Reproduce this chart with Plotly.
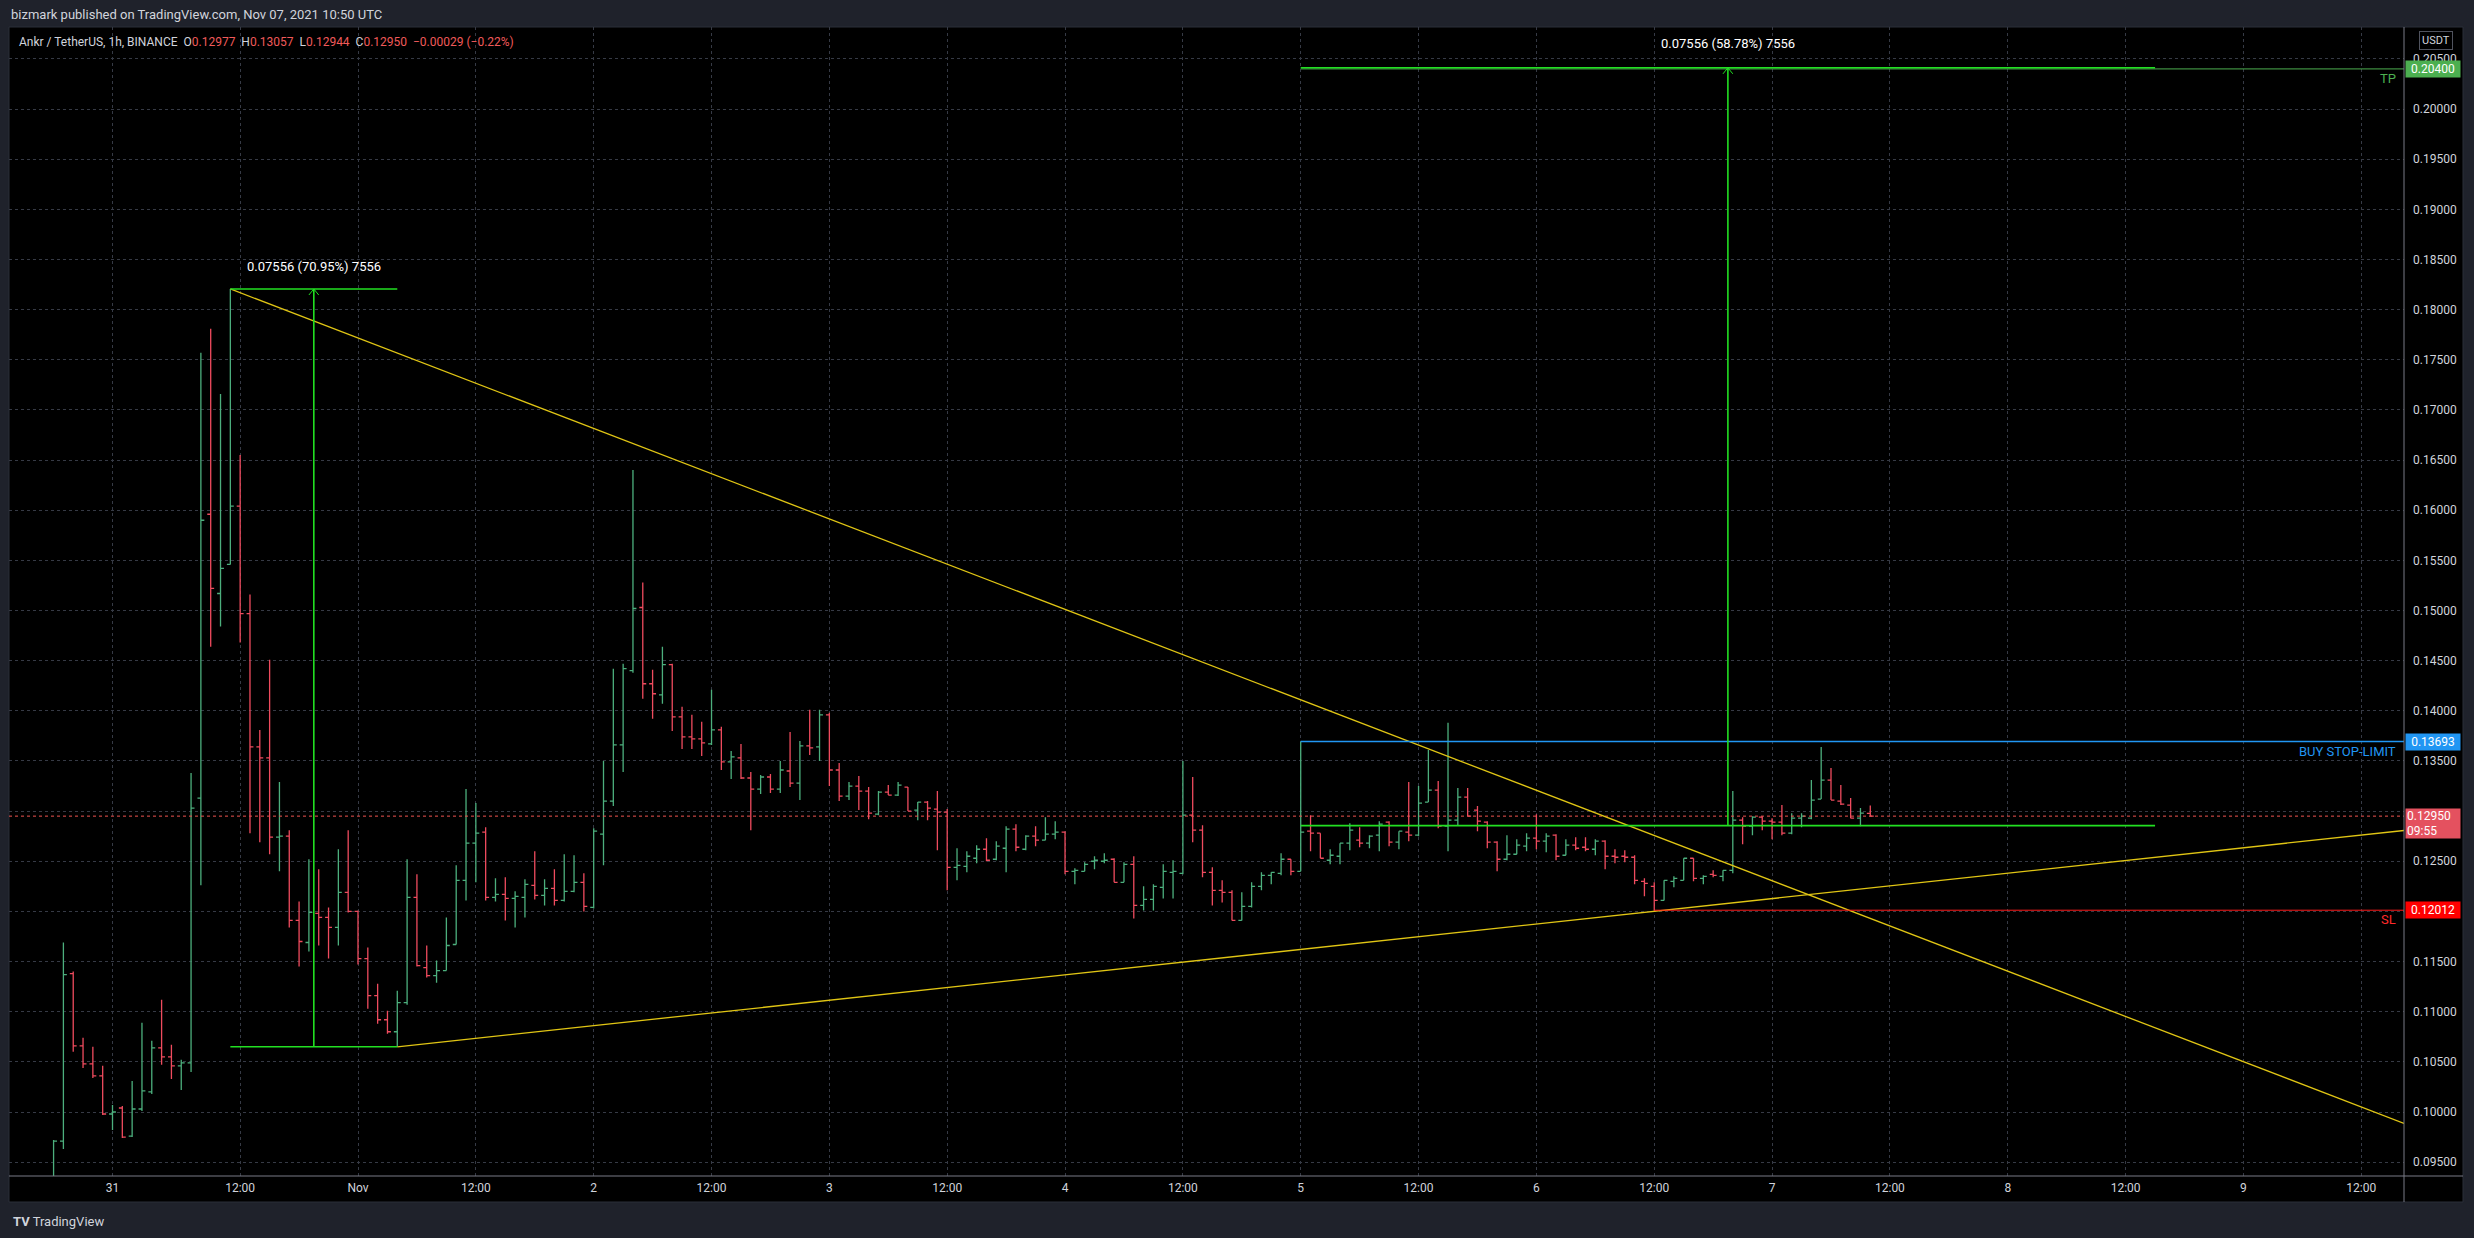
import plotly.graph_objects as go

# ---------------- data ----------------
# x = hourly bar index counted from Oct 31 00:00 (chart time zone; Oct 31 has 25 hourly bars)
bar_index = list(range(-6, 180))

opens = [
    0.0935, 0.0971, 0.1138, 0.1066, 0.1048, 0.1036,
    0.0998, 0.1004, 0.0976, 0.1003, 0.1020, 0.1064, 0.1055, 0.1046, 0.1049, 0.1313,
    0.1596, 0.1517, 0.1546, 0.1604, 0.1497, 0.1364, 0.1353, 0.1274, 0.1275, 0.1191,
    0.1169, 0.1198, 0.1194, 0.1184, 0.1219, 0.1200, 0.1153, 0.1116, 0.1092, 0.1080,
    0.1109, 0.1214, 0.1144, 0.1136, 0.1141, 0.1167, 0.1231, 0.1268, 0.1279, 0.1214,
    0.1217, 0.1213, 0.1214, 0.1226, 0.1216, 0.1223, 0.1211, 0.1220, 0.1229, 0.1204,
    0.1277, 0.1310, 0.1366, 0.1440, 0.1503, 0.1427, 0.1416, 0.1446, 0.1394, 0.1374,
    0.1372, 0.1367, 0.1381, 0.1349, 0.1353, 0.1333, 0.1322, 0.1334, 0.1322, 0.1340,
    0.1328, 0.1365, 0.1364, 0.1396, 0.1341, 0.1315, 0.1325, 0.1320, 0.1297, 0.1319,
    0.1316, 0.1324, 0.1301, 0.1309, 0.1302, 0.1299, 0.1244, 0.1245, 0.1253, 0.1262,
    0.1252, 0.1263, 0.1282, 0.1262, 0.1275, 0.1271, 0.1277, 0.1279, 0.1240, 0.1240,
    0.1250, 0.1250, 0.1252, 0.1229, 0.1247, 0.1206, 0.1212, 0.1224, 0.1239, 0.1238,
    0.1296, 0.1281, 0.1239, 0.1221, 0.1219, 0.1191, 0.1205, 0.1225, 0.1236, 0.1238,
    0.1252, 0.1240, 0.1280, 0.1278, 0.1251, 0.1255, 0.1268, 0.1271, 0.1268, 0.1276,
    0.1289, 0.1269, 0.1279, 0.1276, 0.1309, 0.1321, 0.1285, 0.1291, 0.1314, 0.1301,
    0.1289, 0.1269, 0.1252, 0.1257, 0.1265, 0.1273, 0.1270, 0.1276, 0.1256, 0.1266,
    0.1264, 0.1262, 0.1270, 0.1255, 0.1255, 0.1254, 0.1230, 0.1225, 0.1211, 0.1230,
    0.1231, 0.1253, 0.1233, 0.1237, 0.1235, 0.1241, 0.1291, 0.1285, 0.1294, 0.1290,
    0.1289, 0.1278, 0.1293, 0.1293, 0.1312, 0.1331, 0.1310, 0.1306, 0.1293, 0.12977,
]
highs = [
    0.0972, 0.1169, 0.1140, 0.1074, 0.1065, 0.1046,
    0.1007, 0.1006, 0.1031, 0.1089, 0.1071, 0.1112, 0.1067, 0.1052, 0.1338, 0.1757,
    0.1781, 0.1716, 0.18206, 0.1655, 0.1516, 0.1381, 0.1451, 0.1329, 0.1281, 0.1210,
    0.1252, 0.1242, 0.1204, 0.1262, 0.1281, 0.1201, 0.1164, 0.1128, 0.1101, 0.1121,
    0.1252, 0.1237, 0.1166, 0.1151, 0.1194, 0.1246, 0.1322, 0.1308, 0.1284, 0.1233,
    0.1234, 0.1220, 0.1232, 0.1260, 0.1232, 0.1242, 0.1257, 0.1256, 0.1238, 0.1283,
    0.1350, 0.1442, 0.1447, 0.1640, 0.1528, 0.1441, 0.1464, 0.1447, 0.1404, 0.1396,
    0.1389, 0.1421, 0.1384, 0.1360, 0.1367, 0.1339, 0.1336, 0.1337, 0.1350, 0.1379,
    0.1370, 0.1401, 0.1401, 0.1398, 0.1348, 0.1329, 0.1335, 0.1324, 0.1320, 0.1326,
    0.1329, 0.1324, 0.1309, 0.1310, 0.1320, 0.1302, 0.1263, 0.1260, 0.1266, 0.1273,
    0.1270, 0.1285, 0.1287, 0.1276, 0.1285, 0.1294, 0.1290, 0.1280, 0.1243, 0.1249,
    0.1255, 0.1258, 0.1253, 0.1249, 0.1255, 0.1225, 0.1227, 0.1247, 0.1251, 0.1350,
    0.1334, 0.1286, 0.1244, 0.1231, 0.1221, 0.1219, 0.1229, 0.1239, 0.1239, 0.1258,
    0.1252, 0.13693, 0.1296, 0.1278, 0.1262, 0.1268, 0.1288, 0.1284, 0.1276, 0.1290,
    0.1290, 0.1280, 0.1329, 0.1325, 0.1361, 0.1330, 0.1388, 0.1323, 0.1323, 0.1305,
    0.1290, 0.1270, 0.1276, 0.1272, 0.1278, 0.1297, 0.1278, 0.1277, 0.1272, 0.1274,
    0.1274, 0.1272, 0.1271, 0.1262, 0.1261, 0.1256, 0.1233, 0.1229, 0.1231, 0.1235,
    0.1253, 0.1253, 0.1236, 0.1241, 0.1241, 0.1320, 0.1294, 0.1295, 0.1295, 0.1293,
    0.1306, 0.1298, 0.1298, 0.1331, 0.1364, 0.1343, 0.1326, 0.1313, 0.1303, 0.13057,
]
lows = [
    0.0930, 0.0963, 0.1060, 0.1044, 0.1034, 0.0997,
    0.0982, 0.0974, 0.0975, 0.1001, 0.1018, 0.1047, 0.1033, 0.1022, 0.1040, 0.1226,
    0.1464, 0.1484, 0.1546, 0.1468, 0.1278, 0.1269, 0.1257, 0.1240, 0.1184, 0.1145,
    0.1160, 0.1166, 0.1153, 0.1166, 0.1199, 0.1147, 0.1103, 0.1088, 0.1078, 0.10650,
    0.1107, 0.1145, 0.1134, 0.1129, 0.1141, 0.1167, 0.1211, 0.1229, 0.1211, 0.1210,
    0.1191, 0.1184, 0.1194, 0.1212, 0.1206, 0.1206, 0.1210, 0.1219, 0.1200, 0.1203,
    0.1246, 0.1305, 0.1339, 0.1438, 0.1412, 0.1392, 0.1407, 0.1380, 0.1362, 0.1362,
    0.1355, 0.1366, 0.1341, 0.1332, 0.1332, 0.1281, 0.1317, 0.1318, 0.1318, 0.1324,
    0.1311, 0.1356, 0.1350, 0.1325, 0.1310, 0.1311, 0.1301, 0.1292, 0.1296, 0.1316,
    0.1315, 0.1300, 0.1291, 0.1291, 0.1261, 0.1221, 0.1231, 0.1239, 0.1248, 0.1250,
    0.1251, 0.1239, 0.1260, 0.1261, 0.1265, 0.1271, 0.1272, 0.1237, 0.1227, 0.1240,
    0.1242, 0.1248, 0.1229, 0.1229, 0.1193, 0.1201, 0.1201, 0.1213, 0.1213, 0.1237,
    0.1269, 0.1234, 0.1206, 0.1209, 0.1191, 0.1191, 0.1204, 0.1221, 0.1227, 0.1236,
    0.1236, 0.1240, 0.1260, 0.1253, 0.1247, 0.1247, 0.1261, 0.1264, 0.1263, 0.1260,
    0.1265, 0.1262, 0.1270, 0.1275, 0.1309, 0.1283, 0.1260, 0.1286, 0.1295, 0.1280,
    0.1263, 0.1240, 0.1251, 0.1257, 0.1260, 0.1262, 0.1259, 0.1251, 0.1256, 0.1261,
    0.1260, 0.1256, 0.1242, 0.1248, 0.1249, 0.1227, 0.1215, 0.12007, 0.1211, 0.1224,
    0.1231, 0.1230, 0.1227, 0.1234, 0.1230, 0.1238, 0.1267, 0.1276, 0.1281, 0.1272,
    0.1276, 0.1277, 0.1284, 0.1292, 0.1312, 0.1311, 0.1306, 0.1293, 0.1285, 0.12944,
]
closes = [
    0.0971, 0.1137, 0.1066, 0.1048, 0.1036, 0.0998,
    0.1000, 0.0975, 0.1003, 0.1021, 0.1064, 0.1055, 0.1046, 0.1049, 0.1303, 0.1590,
    0.1522, 0.1542, 0.1604, 0.1497, 0.1364, 0.1353, 0.1274, 0.1275, 0.1191, 0.1170,
    0.1199, 0.1194, 0.1184, 0.1219, 0.1200, 0.1153, 0.1116, 0.1092, 0.1080, 0.1109,
    0.1214, 0.1146, 0.1136, 0.1141, 0.1166, 0.1231, 0.1268, 0.1278, 0.1214, 0.1217,
    0.1213, 0.1215, 0.1227, 0.1216, 0.1223, 0.1211, 0.1220, 0.1229, 0.1205, 0.1280,
    0.1310, 0.1366, 0.1442, 0.1502, 0.1427, 0.1417, 0.1446, 0.1394, 0.1374, 0.1372,
    0.1368, 0.1381, 0.1349, 0.1354, 0.1333, 0.1322, 0.1334, 0.1322, 0.1341, 0.1328,
    0.1365, 0.1363, 0.1396, 0.1341, 0.1315, 0.1325, 0.1320, 0.1298, 0.1319, 0.1316,
    0.1326, 0.1300, 0.1309, 0.1303, 0.1299, 0.1244, 0.1246, 0.1255, 0.1262, 0.1251,
    0.1265, 0.1282, 0.1264, 0.1275, 0.1271, 0.1277, 0.1279, 0.1240, 0.1241, 0.1247,
    0.1251, 0.1251, 0.1229, 0.1247, 0.1206, 0.1212, 0.1225, 0.1240, 0.1240, 0.1296,
    0.1281, 0.1239, 0.1221, 0.1219, 0.1191, 0.1205, 0.1225, 0.1236, 0.1239, 0.1252,
    0.1240, 0.1279, 0.1278, 0.1253, 0.1256, 0.1268, 0.1281, 0.1268, 0.1275, 0.1287,
    0.1269, 0.1280, 0.1276, 0.1308, 0.1321, 0.1285, 0.1291, 0.1314, 0.1295, 0.1290,
    0.1269, 0.1252, 0.1257, 0.1266, 0.1273, 0.1270, 0.1275, 0.1255, 0.1266, 0.1263,
    0.1262, 0.1270, 0.1255, 0.1254, 0.1254, 0.1231, 0.1228, 0.1211, 0.1231, 0.1233,
    0.1253, 0.1233, 0.1235, 0.1236, 0.1241, 0.1291, 0.1285, 0.1294, 0.1290, 0.1289,
    0.1278, 0.1293, 0.1295, 0.1311, 0.1331, 0.1311, 0.1307, 0.1293, 0.1298, 0.12950,
]

x_tick_vals = [0, 13, 25, 37, 49, 61, 73, 85, 97, 109, 121, 133, 145, 157, 169, 181, 193, 205, 217, 229]
x_tick_text = ["31", "12:00", "Nov", "12:00", "2", "12:00", "3", "12:00", "4", "12:00",
               "5", "12:00", "6", "12:00", "7", "12:00", "8", "12:00", "9", "12:00"]
price_tick_vals = [0.095, 0.100, 0.105, 0.110, 0.115, 0.120, 0.125, 0.130, 0.135, 0.140, 0.145, 0.150,
                   0.155, 0.160, 0.165, 0.170, 0.175, 0.180, 0.185, 0.190, 0.195, 0.200, 0.205]
# labels that sit under the SL and last-price badges are hidden, as in the reference
price_tick_hidden = [0.120, 0.130]
price_tick_text = ["" if any(abs(v - h) < 1e-9 for h in price_tick_hidden) else "%.5f" % v
                   for v in price_tick_vals]

# drawings
trend_down_x = [12, 233.35]
trend_down_y = [0.18206, 0.09887]
trend_up_x = [29, 233.35]
trend_up_y = [0.10650, 0.12807]

measure1_x = [12, 29]
measure1_y = [0.10650, 0.18206]
measure1_label = "0.07556 (70.95%) 7556"
measure2_x = [121, 208]
measure2_y = [0.12855, 0.20411]
measure2_label = "0.07556 (58.78%) 7556"

buy_stop_level, buy_stop_start = 0.13693, 121
tp_level, tp_start = 0.20400, 121
sl_level, sl_start = 0.12012, 157
last_price = 0.12950
last_countdown = "09:55"

x_range = [-10.54, 233.35]
y_range = [0.09362, 0.20818]

# ---------------- layout geometry ----------------
W, H = 2474, 1238
PL, PR, PT, PB = 9, 2404, 27, 1176   # plot area in px
BG = "#1f222b"


def xp(px):
    return (px - PL) / (PR - PL)


def yp(py):
    return (PB - py) / (PB - PT)


UP = "#4caf7d"
DOWN = "#ef4b5e"
LIME = "#22e022"
YEL = "#e0c514"
BLUE = "#2196f3"
FONT = "Roboto"

fig = go.Figure()

fig.add_trace(go.Ohlc(
    x=bar_index, open=opens, high=highs, low=lows, close=closes,
    increasing=dict(line=dict(color=UP, width=1.3)),
    decreasing=dict(line=dict(color=DOWN, width=1.3)),
    tickwidth=0.35, hoverinfo="skip", showlegend=False,
))


def line(xs, ys, color, width=1.3, dash="solid"):
    fig.add_trace(go.Scatter(x=xs, y=ys, mode="lines", line=dict(color=color, width=width, dash=dash),
                             hoverinfo="skip", showlegend=False))


# current price dotted line
line(x_range, [last_price, last_price], "#ef5350", 1, "dot")

# trend lines
line(trend_down_x, trend_down_y, YEL, 1.3)
line(trend_up_x, trend_up_y, YEL, 1.3)

# horizontal levels
line([tp_start, x_range[1]], [tp_level, tp_level], "#4caf50", 1)
line([buy_stop_start, x_range[1]], [buy_stop_level, buy_stop_level], BLUE, 1.5)
line([sl_start, x_range[1]], [sl_level, sl_level], "#ff1c1c", 1)

# measure tools
for mx, my in [(measure1_x, measure1_y), (measure2_x, measure2_y)]:
    mid = (mx[0] + mx[1]) / 2
    line(mx, [my[0], my[0]], LIME, 1.6)
    line(mx, [my[1], my[1]], LIME, 1.6)
    line([mid, mid], my, LIME, 1.6)
    line([mid - 0.5, mid, mid + 0.5], [my[1] - 0.0006, my[1], my[1] - 0.0006], LIME, 1)

annotations = []
annotations.append(dict(x=(measure1_x[0] + measure1_x[1]) / 2, y=measure1_y[1], xref="x", yref="y",
                        text=measure1_label, showarrow=False, yshift=22, yanchor="middle",
                        font=dict(color="#ffffff", size=13, family=FONT)))
annotations.append(dict(x=(measure2_x[0] + measure2_x[1]) / 2, y=measure2_y[1], xref="x", yref="y",
                        text=measure2_label, showarrow=False, yshift=24, yanchor="middle",
                        font=dict(color="#ffffff", size=13, family=FONT)))

# right-side line labels in the plot
annotations.append(dict(x=xp(2398), y=buy_stop_level, xref="paper", yref="y", text="BUY STOP-LIMIT",
                        showarrow=False, xanchor="right", yanchor="middle", yshift=-10,
                        font=dict(color=BLUE, size=13, family=FONT)))
annotations.append(dict(x=xp(2398), y=tp_level, xref="paper", yref="y", text="TP",
                        showarrow=False, xanchor="right", yanchor="middle", yshift=-10,
                        font=dict(color="#4caf50", size=13, family=FONT)))
annotations.append(dict(x=xp(2398), y=sl_level, xref="paper", yref="y", text="SL",
                        showarrow=False, xanchor="right", yanchor="middle", yshift=-9,
                        font=dict(color="#ff2a2a", size=13, family=FONT)))

# price-axis badges
for val, bg, txt in [(tp_level, "#4caf50", "%.5f" % tp_level),
                     (buy_stop_level, BLUE, "%.5f" % buy_stop_level),
                     (sl_level, "#ff0000", "%.5f" % sl_level)]:
    annotations.append(dict(x=xp(2405), y=val, xref="paper", yref="y", text=txt, showarrow=False,
                            xanchor="left", yanchor="middle", bgcolor=bg, width=52, height=14, borderpad=1,
                            font=dict(color="#ffffff", size=12, family=FONT)))
annotations.append(dict(x=xp(2405), y=last_price, xref="paper", yref="y",
                        text="%.5f<br>%s" % (last_price, last_countdown), showarrow=False,
                        xanchor="left", yanchor="top", yshift=8, bgcolor="#e4515f", width=52, height=27,
                        borderpad=1, align="left",
                        font=dict(color="#ffffff", size=12, family=FONT)))

# USDT box
annotations.append(dict(x=xp(2436), y=yp(41), xref="paper", yref="paper", text="USDT", showarrow=False,
                        xanchor="center", yanchor="middle",
                        bordercolor="#50535e", borderwidth=1, borderpad=2,
                        font=dict(color="#d1d4dc", size=11, family=FONT)))

# header / ticker line / footer
annotations.append(dict(x=xp(9), y=yp(15), xref="paper", yref="paper", xanchor="left", yanchor="middle",
                        text="bizmark published on TradingView.com, Nov 07, 2021 10:50 UTC",
                        showarrow=False, font=dict(color="#d1d4dc", size=13, family=FONT)))
red = "#f05a5a"
ticker = ("Ankr / TetherUS, 1h, BINANCE&nbsp;&nbsp;"
          "O<span style='color:%s'>0.12977</span>&nbsp;&nbsp;"
          "H<span style='color:%s'>0.13057</span>&nbsp;&nbsp;"
          "L<span style='color:%s'>0.12944</span>&nbsp;&nbsp;"
          "C<span style='color:%s'>0.12950</span>&nbsp;&nbsp;"
          "<span style='color:%s'>−0.00029 (−0.22%%)</span>") % (red, red, red, red, red)
annotations.append(dict(x=xp(17), y=yp(42), xref="paper", yref="paper", xanchor="left", yanchor="middle",
                        text=ticker, showarrow=False, font=dict(color="#d1d4dc", size=12, family=FONT)))
annotations.append(dict(x=xp(11), y=yp(1221), xref="paper", yref="paper", xanchor="left", yanchor="middle",
                        text="<b>TV</b> TradingView", showarrow=False,
                        font=dict(color="#d1d4dc", size=13, family=FONT)))

shapes = [
    # black chart pane (plot + axes)
    dict(type="rect", xref="paper", yref="paper", x0=xp(9), x1=xp(2463), y0=yp(1202), y1=yp(27),
         fillcolor="#000000", line=dict(color="#2a2e39", width=1), layer="below"),
    # axis separators
    dict(type="line", xref="paper", yref="paper", x0=1, x1=1, y0=yp(1202), y1=1,
         line=dict(color="#787b86", width=1)),
    dict(type="line", xref="paper", yref="paper", x0=0, x1=xp(2463), y0=0, y1=0,
         line=dict(color="#787b86", width=1)),
]

fig.update_layout(
    width=W, height=H,
    margin=dict(l=PL, r=W - PR, t=PT, b=H - PB),
    paper_bgcolor=BG,
    plot_bgcolor="#000000",
    showlegend=False,
    hovermode=False,
    font=dict(family=FONT, color="#d1d4dc"),
    annotations=annotations,
    shapes=shapes,
    xaxis=dict(range=x_range, tickvals=x_tick_vals, ticktext=x_tick_text, showgrid=True,
               gridcolor="#363a45", griddash="dot", gridwidth=1, zeroline=False, showline=False,
               ticks="", ticklabelstandoff=3, tickfont=dict(color="#d1d4dc", size=12, family=FONT),
               rangeslider=dict(visible=False), fixedrange=True),
    yaxis=dict(range=y_range, side="right", tickvals=price_tick_vals, ticktext=price_tick_text,
               showgrid=True, gridcolor="#363a45", griddash="dot", gridwidth=1, zeroline=False,
               showline=False, ticks="", ticklabelstandoff=8,
               tickfont=dict(color="#d1d4dc", size=12, family=FONT), fixedrange=True),
)

# remove the browser's default 8px body margin so the figure sits at the window's origin
fig.write_html("out.html", config={"displayModeBar": False},
               post_script="document.body.style.margin='0';document.body.style.background='%s';"
                           "document.body.style.overflow='hidden';" % BG)
